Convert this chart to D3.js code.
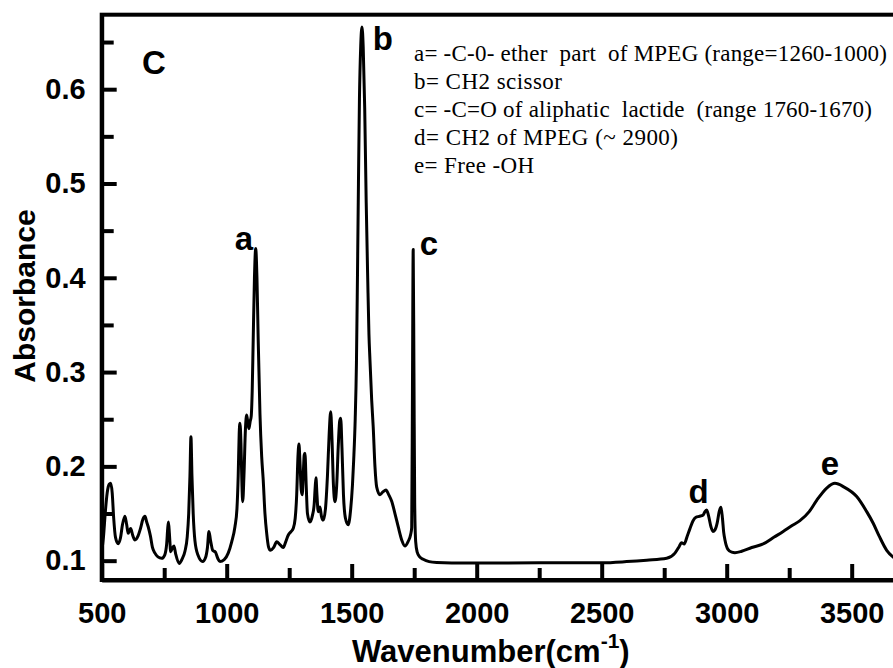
<!DOCTYPE html>
<html>
<head>
<meta charset="utf-8">
<script src="https://cdnjs.cloudflare.com/ajax/libs/d3/7.8.5/d3.min.js"></script>
<style>
    body { margin: 0; background: #fff; }
    svg { display: block; }
    .axis text { font-family: "Liberation Sans", Arial, sans-serif; font-weight: bold; font-size: 29px; fill: #000; }
    .axis line { stroke: #000; stroke-width: 4; }
    .axis path { stroke: #000; stroke-width: 4; }
    .title { font-family: "Liberation Sans", Arial, sans-serif; font-weight: bold; fill: #000; }
    .legend { font-family: "Liberation Serif", "Times New Roman", serif; font-size: 23px; fill: #000; }
</style>
</head>
<body>
<div id="chart"></div>
<script>
// spectrum (wavenumber in cm-1, absorbance)
var wavenumber = [
    500, 507, 514, 522, 530, 536, 542, 548, 555, 566, 575, 583, 593, 600, 606, 611, 616, 624, 633, 645,
    655, 665, 673, 680, 686, 695, 703, 713, 725, 740, 752, 760, 764, 767, 771, 776, 782, 789, 796, 810,
    822, 833, 842, 848, 853, 857, 861, 866, 873, 885, 904, 915, 923, 929, 935, 944, 955, 965, 973, 990,
    1006, 1020, 1033, 1041, 1046, 1050, 1053, 1057, 1061, 1064, 1069, 1075, 1080, 1085, 1089, 1094, 1098, 1102, 1106, 1111,
    1116, 1121, 1126, 1133, 1140, 1146, 1153, 1160, 1167, 1175, 1188, 1200, 1213, 1226, 1236, 1246, 1258, 1266, 1274, 1280,
    1285, 1289, 1293, 1298, 1302, 1306, 1310, 1313, 1318, 1323, 1333, 1343, 1350, 1354, 1357, 1361, 1366, 1373, 1379, 1386,
    1395, 1403, 1410, 1416, 1421, 1427, 1433, 1440, 1446, 1452, 1456, 1461, 1467, 1475, 1486, 1496, 1503, 1508, 1514, 1519,
    1523, 1527, 1531, 1536, 1541, 1546, 1552, 1558, 1564, 1569, 1573, 1580, 1586, 1593, 1600, 1613, 1625, 1637, 1648, 1660,
    1673, 1686, 1700, 1713, 1725, 1736, 1740, 1743, 1746, 1749, 1752, 1756, 1762, 1772, 1786, 1810, 1840, 1900, 2000, 2250,
    2500, 2600, 2680, 2760, 2793, 2810, 2819, 2830, 2842, 2853, 2865, 2877, 2890, 2906, 2913, 2920, 2927, 2937, 2945, 2953,
    2962, 2970, 2977, 2983, 2988, 2993, 3005, 3020, 3033, 3060, 3100, 3146, 3190, 3226, 3260, 3293, 3330, 3360, 3400, 3433,
    3470, 3520, 3560, 3586, 3610, 3640, 3665, 3700
];
var absorbance = [
    0.110, 0.125, 0.150, 0.172, 0.181, 0.182, 0.172, 0.145, 0.125, 0.118, 0.124, 0.138, 0.147, 0.138, 0.129, 0.132, 0.134, 0.127, 0.122, 0.126,
    0.134, 0.144, 0.147, 0.141, 0.136, 0.126, 0.114, 0.108, 0.104, 0.1025, 0.106, 0.118, 0.134, 0.141, 0.128, 0.1095, 0.113, 0.1156, 0.107, 0.097,
    0.102, 0.110, 0.125, 0.150, 0.190, 0.2315, 0.190, 0.150, 0.121, 0.106, 0.099, 0.103, 0.114, 0.131, 0.122, 0.111, 0.109, 0.102, 0.099, 0.101,
    0.108, 0.120, 0.136, 0.155, 0.190, 0.235, 0.2457, 0.225, 0.180, 0.1626, 0.190, 0.240, 0.2545, 0.245, 0.240, 0.248, 0.253, 0.280, 0.334, 0.400,
    0.431, 0.400, 0.334, 0.256, 0.210, 0.186, 0.150, 0.129, 0.115, 0.111, 0.114, 0.120, 0.117, 0.114, 0.120, 0.127, 0.131, 0.134, 0.145, 0.170,
    0.210, 0.2237, 0.205, 0.175, 0.170, 0.190, 0.212, 0.214, 0.180, 0.150, 0.141, 0.148, 0.160, 0.178, 0.188, 0.170, 0.152, 0.157, 0.147, 0.143,
    0.155, 0.190, 0.235, 0.258, 0.230, 0.180, 0.1626, 0.180, 0.220, 0.248, 0.251, 0.220, 0.170, 0.145, 0.138, 0.155, 0.180, 0.207, 0.250, 0.310,
    0.400, 0.500, 0.590, 0.645, 0.666, 0.645, 0.580, 0.480, 0.400, 0.340, 0.313, 0.270, 0.242, 0.200, 0.178, 0.170, 0.173, 0.175, 0.170, 0.163,
    0.150, 0.136, 0.122, 0.1156, 0.120, 0.128, 0.135, 0.280, 0.430, 0.300, 0.160, 0.120, 0.109, 0.104, 0.1015, 0.099, 0.098, 0.0975, 0.0975, 0.0978,
    0.0978, 0.099, 0.1005, 0.1025, 0.108, 0.115, 0.119, 0.1177, 0.126, 0.134, 0.142, 0.146, 0.147, 0.1485, 0.152, 0.1538, 0.148, 0.136, 0.131, 0.1326,
    0.140, 0.152, 0.1566, 0.145, 0.130, 0.122, 0.112, 0.109, 0.1085, 0.110, 0.114, 0.1177, 0.125, 0.131, 0.137, 0.1424, 0.152, 0.164, 0.177, 0.182,
    0.178, 0.168, 0.152, 0.1397, 0.126, 0.111, 0.104, 0.099
];

// peak letters: text, wavenumber, absorbance of the letter's baseline
var peakNames = ["C", "a", "b", "c", "d", "e"];
var peakAt = [661, 1069, 1625, 1809, 2888, 3413];
var peakHeight = [0.616, 0.4295, 0.6416, 0.424, 0.161, 0.191];

var legendLines = [
    "a= -C-0- ether  part  of MPEG (range=1260-1000)",
    "b= CH2 scissor",
    "c= -C=O of aliphatic  lactide  (range 1760-1670)",
    "d= CH2 of MPEG (~ 2900)",
    "e= Free -OH"
];
// printed width of each legend line, px
var legendWidths = [473, 148, 458, 264, 120];

var xMajor = [500, 1000, 1500, 2000, 2500, 3000, 3500];
var xMinor = [750, 1250, 1750, 2250, 2750, 3250, 3750];
var yMajor = [0.1, 0.2, 0.3, 0.4, 0.5, 0.6];
var yMinor = [0.15, 0.25, 0.35, 0.45, 0.55, 0.65];

(function () {
    "use strict";

    var width = 893,
        height = 668,
        left = 101.7,
        top = 14.7,
        bottom = 580,
        // the figure is cut off on the right, 4000 cm-1 lies beyond the page
        right = left + 3500 * 0.25,
        points = wavenumber.map(function (w, i) {
            return [w, absorbance[i]];
        }),
        xFunction = d3.scaleLinear().domain([500, 4000]).range([left, right]),
        yFunction = d3.scaleLinear().domain([0.0795, 0.679]).range([bottom, top]),
        svg = d3.select("#chart")
            .append("svg")
            .attr("width", width)
            .attr("height", height);

    // frame
    svg.append("rect")
        .attr("x", xFunction(500))
        .attr("y", yFunction(0.679))
        .attr("width", xFunction(4000) - xFunction(500))
        .attr("height", yFunction(0.0795) - yFunction(0.679))
        .attr("fill", "none")
        .attr("stroke", "#000")
        .attr("stroke-width", 4);

    // ticks point inwards
    svg.append("g")
        .attr("class", "axis")
        .attr("transform", "translate(0," + bottom + ")")
        .call(d3.axisBottom(xFunction).tickValues(xMajor).tickSize(-16).tickSizeOuter(0).tickPadding(22).tickFormat(d3.format("d")));

    svg.append("g")
        .attr("class", "axis")
        .attr("transform", "translate(0," + bottom + ")")
        .call(d3.axisBottom(xFunction).tickValues(xMinor).tickSize(-12).tickFormat(""))
        .select(".domain").remove();

    svg.append("g")
        .attr("class", "axis")
        .attr("transform", "translate(" + left + ",0)")
        .call(d3.axisLeft(yFunction).tickValues(yMajor).tickSize(-15).tickSizeOuter(0).tickPadding(16).tickFormat(d3.format(".1f")));

    svg.append("g")
        .attr("class", "axis")
        .attr("transform", "translate(" + left + ",0)")
        .call(d3.axisLeft(yFunction).tickValues(yMinor).tickSize(-12).tickFormat(""))
        .select(".domain").remove();

    // spectrum
    svg.append("path")
        .datum(points)
        .attr("fill", "none")
        .attr("stroke", "#000")
        .attr("stroke-width", 3)
        .attr("stroke-linejoin", "round")
        .attr("d", d3.line()
            .x(function (d) { return xFunction(d[0]); })
            .y(function (d) { return yFunction(d[1]); })
            .curve(d3.curveMonotoneX));

    svg.selectAll(".peak")
        .data(peakNames)
        .enter()
        .append("text")
        .attr("class", "title peak")
        .attr("x", function (d, i) { return xFunction(peakAt[i]); })
        .attr("y", function (d, i) { return yFunction(peakHeight[i]); })
        .attr("text-anchor", function (d) { return d === "C" ? "start" : "middle"; })
        .style("font-size", "33px")
        .text(function (d) { return d; });

    svg.selectAll(".legend")
        .data(legendLines)
        .enter()
        .append("text")
        .attr("class", "legend")
        .attr("x", 414)
        .attr("y", function (d, i) { return 61 + i * 28; })
        .attr("textLength", function (d, i) { return legendWidths[i]; })
        .attr("lengthAdjust", "spacing")
        .style("white-space", "pre")
        .text(function (d) { return d; });

    // axis titles
    var xTitle = svg.append("text")
        .attr("class", "title")
        .attr("x", 352)
        .attr("y", 662)
        .style("font-size", "31px");
    xTitle.append("tspan").text("Wavenumber(cm");
    xTitle.append("tspan").attr("dy", -14).style("font-size", "21px").text("-1");
    xTitle.append("tspan").attr("dy", 14).text(")");

    svg.append("text")
        .attr("class", "title")
        .attr("transform", "translate(35,296) rotate(-90)")
        .attr("text-anchor", "middle")
        .style("font-size", "30px")
        .text("Absorbance");
}());
</script>
</body>
</html>
